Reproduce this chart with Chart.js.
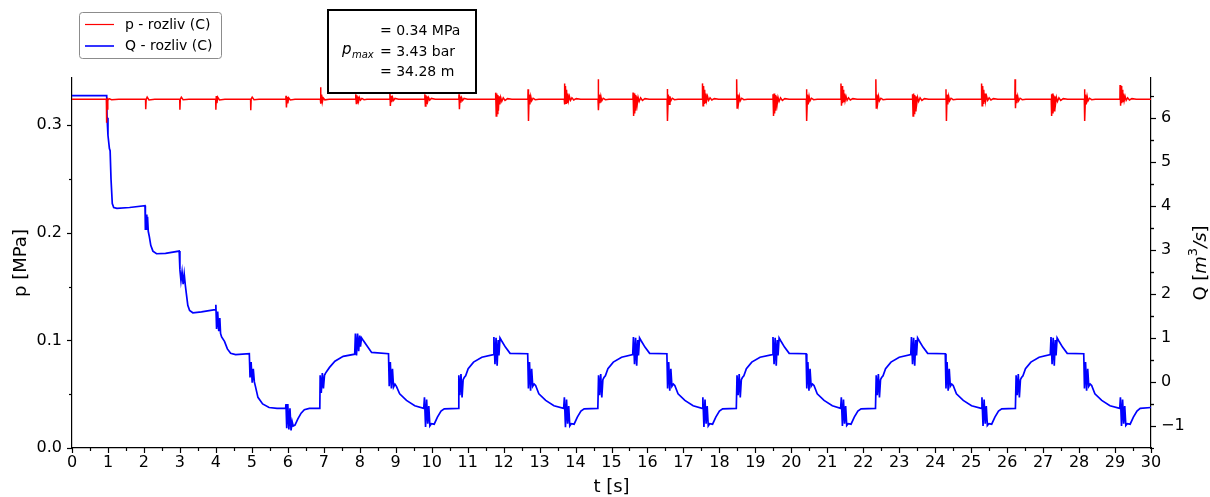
<!DOCTYPE html>
<html>
<head>
<meta charset="utf-8">
<script src="https://cdn.jsdelivr.net/npm/chart.js@4"></script>
<style>
  html, body { margin: 0; padding: 0; background: #fff; }
</style>
</head>
<body>
<canvas id="chart" width="1210" height="497"></canvas>
<script>
// Tlak a průtok – rozliv (C), čteno z obrázku
const xTicks = [0, 30, 1];           // min, max, krok osy t [s]
const pTicks = [0, 0.344, 0.1];      // osa p [MPa]
const qTicks = [-1.5, 6.9, 1];       // osa Q [m3/s]
const seriesNames = ['p - rozliv (C)', 'Q - rozliv (C)'];
const boxLines = ['= 0.34 MPa', '= 3.43 bar', '= 34.28 m'];

// p [MPa] – [t, p]
const pSeries = [
  [0, .3242], [0.955, .3242], [0.96, .3025], [0.966, .3236], [0.98, .3244], [0.99, .3145], [1.0, .3232], [1.03, .3248], [1.1, .3238], [1.3, .3242],
  [2.045, .3242], [2.05, .315], [2.062, .324], [2.09, .3262], [2.14, .3236], [2.3, .3242],
  [2.995, .3242], [3.0, .3145], [3.012, .3242], [3.04, .3262], [3.09, .3238], [3.25, .3242],
  [3.995, .3242], [4.0, .3145], [4.012, .3272], [4.03, .3205], [4.05, .3262], [4.1, .3236], [4.25, .3242],
  [4.965, .3242], [4.97, .314], [4.982, .3245], [5.01, .3262], [5.06, .3238], [5.2, .3242],
  [5.945, .3242], [5.95, .3275], [5.962, .3165], [5.98, .3262], [6.0, .3205], [6.025, .3255], [6.07, .3236], [6.2, .3242],
  [6.905, .3242], [6.91, .3355], [6.922, .3202], [6.94, .3285], [6.96, .3215], [6.985, .3255], [7.03, .3237], [7.15, .3242],
  [7.885, .3242], [7.89, .3288], [7.905, .3202], [7.92, .328], [7.935, .3212], [7.95, .3268], [7.97, .3225], [7.99, .3258], [8.02, .3234], [8.06, .325], [8.12, .3238], [8.2, .3242],
  [8.835, .3242], [8.84, .3304], [8.852, .318], [8.87, .3275], [8.89, .3215], [8.915, .3258], [8.94, .3232], [8.98, .325], [9.08, .3242],
  [9.805, .3242], [9.81, .3288], [9.825, .318], [9.84, .328], [9.855, .3205], [9.87, .327], [9.89, .3222], [9.915, .3258], [9.945, .3234], [9.99, .325], [10.1, .3242],
  [10.755, .3242], [10.76, .3288], [10.772, .3149], [10.79, .3268], [10.81, .3212], [10.835, .3256], [10.86, .3232], [10.9, .325], [11.0, .3242],
  [11.775, .3242], [11.78, .3304], [11.795, .3087], [11.81, .3295], [11.825, .311], [11.84, .3282], [11.855, .3135], [11.875, .327], [11.895, .3195], [11.92, .326], [11.95, .3222], [11.99, .3256], [12.04, .3232], [12.11, .3248], [12.23, .3242],
  [12.675, .3242], [12.68, .3335], [12.692, .304], [12.71, .3285], [12.73, .3195], [12.755, .327], [12.78, .3228], [12.82, .3252], [12.88, .3238], [12.98, .3242],
  [13.685, .3242], [13.69, .3388], [13.705, .3195], [13.72, .3365], [13.735, .3205], [13.75, .333], [13.765, .3215], [13.785, .3295], [13.805, .323], [13.83, .327], [13.86, .3232], [13.9, .3256], [13.95, .3236], [14.02, .3248], [14.14, .3242],
  [14.625, .3242], [14.63, .3428], [14.642, .314], [14.66, .3285], [14.68, .3205], [14.705, .327], [14.73, .3228], [14.77, .3252], [14.83, .3238], [14.93, .3242],
  [15.595, .3242], [15.6, .3304], [15.615, .3087], [15.63, .3295], [15.645, .311], [15.66, .3282], [15.675, .3135], [15.695, .327], [15.715, .3195], [15.74, .326], [15.77, .3222], [15.81, .3256], [15.86, .3232], [15.93, .3248], [16.05, .3242],
  [16.545, .3242], [16.55, .3338], [16.562, .3041], [16.58, .3285], [16.6, .3195], [16.625, .327], [16.65, .3228], [16.69, .3252], [16.75, .3238], [16.85, .3242],
  [17.525, .3242], [17.53, .339], [17.545, .3182], [17.56, .3365], [17.575, .3205], [17.59, .333], [17.605, .3215], [17.625, .3295], [17.645, .323], [17.67, .327], [17.7, .3232], [17.74, .3256], [17.79, .3236], [17.86, .3248], [17.98, .3242],
  [18.475, .3242], [18.48, .3428], [18.492, .316], [18.51, .3285], [18.53, .3205], [18.555, .327], [18.58, .3228], [18.62, .3252], [18.68, .3238], [18.78, .3242],
  [19.485, .3242], [19.49, .3288], [19.505, .3087], [19.52, .3295], [19.535, .311], [19.55, .3282], [19.565, .3135], [19.585, .327], [19.605, .3195], [19.63, .326], [19.66, .3222], [19.7, .3256], [19.75, .3232], [19.82, .3248], [19.94, .3242],
  [20.415, .3242], [20.42, .3335], [20.432, .304], [20.45, .3285], [20.47, .3195], [20.495, .327], [20.52, .3228], [20.56, .3252], [20.62, .3238], [20.72, .3242],
  [21.375, .3242], [21.38, .3388], [21.395, .3182], [21.41, .3365], [21.425, .3205], [21.44, .333], [21.455, .3215], [21.475, .3295], [21.495, .323], [21.52, .327], [21.55, .3232], [21.59, .3256], [21.64, .3236], [21.71, .3248], [21.83, .3242],
  [22.345, .3242], [22.35, .3428], [22.362, .316], [22.38, .3285], [22.4, .3205], [22.425, .327], [22.45, .3228], [22.49, .3252], [22.55, .3238], [22.65, .3242],
  [23.365, .3242], [23.37, .3288], [23.385, .3087], [23.4, .3295], [23.415, .311], [23.43, .3282], [23.445, .3135], [23.465, .327], [23.485, .3195], [23.51, .326], [23.54, .3222], [23.58, .3256], [23.63, .3232], [23.7, .3248], [23.82, .3242],
  [24.295, .3242], [24.3, .3335], [24.312, .3041], [24.33, .3285], [24.35, .3195], [24.375, .327], [24.4, .3228], [24.44, .3252], [24.5, .3238], [24.6, .3242],
  [25.285, .3242], [25.29, .3388], [25.305, .3182], [25.32, .3365], [25.335, .3205], [25.35, .333], [25.365, .3215], [25.385, .3295], [25.405, .323], [25.43, .327], [25.46, .3232], [25.5, .3256], [25.55, .3236], [25.62, .3248], [25.74, .3242],
  [26.215, .3242], [26.22, .3428], [26.232, .316], [26.25, .3285], [26.27, .3205], [26.295, .327], [26.32, .3228], [26.36, .3252], [26.42, .3238], [26.52, .3242],
  [27.225, .3242], [27.23, .3288], [27.245, .3087], [27.26, .3295], [27.275, .311], [27.29, .3282], [27.305, .3135], [27.325, .327], [27.345, .3195], [27.37, .326], [27.4, .3222], [27.44, .3256], [27.49, .3232], [27.56, .3248], [27.68, .3242],
  [28.145, .3242], [28.15, .3335], [28.162, .3041], [28.18, .3285], [28.2, .3195], [28.225, .327], [28.25, .3228], [28.29, .3252], [28.35, .3238], [28.45, .3242],
  [29.135, .3242], [29.14, .3375], [29.155, .3182], [29.17, .3365], [29.185, .3205], [29.2, .333], [29.215, .3215], [29.235, .3295], [29.255, .323], [29.28, .327], [29.31, .3232], [29.35, .3256], [29.4, .3236], [29.47, .3248], [29.59, .3242],
  [30, .3242]
];

// Q [m3/s] – [t, Q]
const qSeries = [
  [0, 6.5], [0.965, 6.5], [0.975, 6.0], [1.0, 5.6], [1.04, 5.3], [1.06, 5.25], [1.085, 4.6], [1.12, 4.05], [1.16, 3.96], [1.25, 3.94], [1.6, 3.96], [2.03, 4.0],
  [2.04, 3.45], [2.06, 3.8], [2.08, 3.45], [2.1, 3.75], [2.12, 3.42], [2.15, 3.3], [2.19, 3.1], [2.25, 2.97], [2.35, 2.91], [2.6, 2.92], [2.98, 2.97],
  [3.0, 2.55], [3.03, 2.3], [3.06, 2.5], [3.09, 2.22], [3.12, 2.45], [3.15, 2.2], [3.18, 2.0], [3.22, 1.74], [3.27, 1.62], [3.36, 1.57], [3.6, 1.59], [3.98, 1.64],
  [4.0, 1.75], [4.02, 1.2], [4.05, 1.6], [4.08, 1.15], [4.11, 1.45], [4.13, 1.1], [4.16, 1.02], [4.24, 0.92], [4.32, 0.75], [4.41, 0.65], [4.55, 0.62], [4.93, 0.64],
  [4.95, 0.1], [4.98, 0.45], [5.01, -0.02], [5.04, 0.3], [5.07, 0.0], [5.1, -0.1], [5.17, -0.35], [5.3, -0.5], [5.48, -0.58], [5.7, -0.6], [5.94, -0.6],
  [5.95, -0.5], [5.97, -1.05], [6.0, -0.5], [6.03, -1.08], [6.06, -0.6], [6.09, -1.1], [6.12, -0.9], [6.15, -1.0], [6.2, -0.98], [6.28, -0.84], [6.37, -0.71], [6.46, -0.63], [6.6, -0.6], [6.89, -0.6],
  [6.9, 0.15], [6.93, -0.25], [6.96, 0.2], [6.99, -0.15], [7.02, 0.15], [7.05, 0.2], [7.09, 0.25], [7.16, 0.33], [7.31, 0.47], [7.54, 0.58], [7.86, 0.63],
  [7.88, 1.1], [7.91, 0.6], [7.94, 1.1], [7.97, 0.7], [8.0, 1.05], [8.02, 0.8], [8.05, 1.0], [8.09, 0.95], [8.2, 0.82], [8.33, 0.67], [8.8, 0.64],
  [8.82, -0.1], [8.85, 0.45], [8.88, -0.15], [8.91, 0.3], [8.94, -0.12], [8.98, -0.05], [9.02, -0.1], [9.11, -0.27], [9.3, -0.42], [9.53, -0.54], [9.78, -0.6],
  [9.8, -0.35], [9.83, -1.02], [9.86, -0.4], [9.89, -0.95], [9.92, -0.55], [9.95, -1.0], [9.99, -0.95], [10.07, -0.96], [10.16, -0.8], [10.26, -0.66], [10.35, -0.61], [10.74, -0.6],
  [10.755, 0.15], [10.785, -0.3], [10.815, 0.18], [10.845, -0.35], [10.875, 0.05], [10.905, 0.1], [10.945, 0.14], [11.015, 0.3], [11.165, 0.45], [11.395, 0.56], [11.715, 0.62],
  [11.73, 1.02], [11.76, 0.4], [11.79, 1.0], [11.82, 0.37], [11.85, 0.95], [11.87, 0.6], [11.9, 1.0], [11.94, 0.94], [12.05, 0.79], [12.18, 0.65], [12.67, 0.64],
  [12.69, -0.15], [12.72, 0.45], [12.75, -0.2], [12.78, 0.3], [12.81, -0.1], [12.85, -0.05], [12.89, -0.08], [12.98, -0.27], [13.17, -0.42], [13.4, -0.54], [13.67, -0.6],
  [13.69, -0.35], [13.72, -1.03], [13.75, -0.4], [13.78, -0.95], [13.81, -0.55], [13.84, -1.0], [13.88, -0.95], [13.96, -0.96], [14.05, -0.8], [14.15, -0.66], [14.24, -0.61], [14.62, -0.6],
  [14.64, 0.15], [14.67, -0.3], [14.7, 0.18], [14.73, -0.35], [14.76, 0.05], [14.79, 0.1], [14.83, 0.14], [14.9, 0.3], [15.05, 0.45], [15.28, 0.56], [15.59, 0.62],
  [15.61, 1.02], [15.64, 0.4], [15.67, 1.0], [15.7, 0.37], [15.73, 0.95], [15.75, 0.6], [15.78, 1.0], [15.82, 0.94], [15.93, 0.79], [16.06, 0.65], [16.54, 0.64],
  [16.56, -0.15], [16.59, 0.45], [16.62, -0.2], [16.65, 0.3], [16.68, -0.1], [16.72, -0.05], [16.76, -0.08], [16.85, -0.27], [17.04, -0.42], [17.27, -0.54], [17.52, -0.6],
  [17.54, -0.35], [17.57, -1.02], [17.6, -0.4], [17.63, -0.95], [17.66, -0.55], [17.69, -1.0], [17.73, -0.95], [17.81, -0.96], [17.9, -0.8], [18.0, -0.66], [18.09, -0.61], [18.47, -0.6],
  [18.49, 0.15], [18.52, -0.3], [18.55, 0.18], [18.58, -0.35], [18.61, 0.05], [18.64, 0.1], [18.68, 0.14], [18.75, 0.3], [18.9, 0.45], [19.13, 0.56], [19.47, 0.62],
  [19.49, 1.02], [19.52, 0.4], [19.55, 1.0], [19.58, 0.37], [19.61, 0.95], [19.63, 0.6], [19.66, 1.0], [19.7, 0.94], [19.81, 0.79], [19.94, 0.65], [20.41, 0.64],
  [20.43, -0.15], [20.46, 0.45], [20.49, -0.2], [20.52, 0.3], [20.55, -0.1], [20.59, -0.05], [20.63, -0.08], [20.72, -0.27], [20.91, -0.42], [21.14, -0.54], [21.37, -0.6],
  [21.39, -0.35], [21.42, -1.0], [21.45, -0.4], [21.48, -0.95], [21.51, -0.55], [21.54, -0.99], [21.58, -0.95], [21.66, -0.96], [21.75, -0.8], [21.85, -0.66], [21.94, -0.61], [22.34, -0.6],
  [22.36, 0.15], [22.39, -0.3], [22.42, 0.18], [22.45, -0.35], [22.48, 0.05], [22.51, 0.1], [22.55, 0.14], [22.62, 0.3], [22.77, 0.45], [23.0, 0.56], [23.32, 0.62],
  [23.34, 1.02], [23.37, 0.4], [23.4, 1.0], [23.43, 0.37], [23.46, 0.95], [23.48, 0.6], [23.51, 1.0], [23.55, 0.94], [23.66, 0.79], [23.79, 0.65], [24.28, 0.64],
  [24.3, -0.15], [24.33, 0.45], [24.36, -0.2], [24.39, 0.3], [24.42, -0.1], [24.46, -0.05], [24.5, -0.08], [24.59, -0.27], [24.78, -0.42], [25.01, -0.54], [25.28, -0.6],
  [25.3, -0.35], [25.33, -1.0], [25.36, -0.4], [25.39, -0.95], [25.42, -0.55], [25.45, -0.99], [25.49, -0.95], [25.57, -0.96], [25.66, -0.8], [25.76, -0.66], [25.85, -0.61], [26.23, -0.6],
  [26.25, 0.15], [26.28, -0.3], [26.31, 0.18], [26.34, -0.35], [26.37, 0.05], [26.4, 0.1], [26.44, 0.14], [26.51, 0.3], [26.66, 0.45], [26.89, 0.56], [27.2, 0.62],
  [27.22, 1.02], [27.25, 0.4], [27.28, 1.0], [27.31, 0.37], [27.34, 0.95], [27.36, 0.6], [27.39, 1.0], [27.43, 0.94], [27.54, 0.79], [27.67, 0.65], [28.13, 0.64],
  [28.15, -0.15], [28.18, 0.45], [28.21, -0.2], [28.24, 0.3], [28.27, -0.1], [28.31, -0.05], [28.35, -0.08], [28.44, -0.27], [28.63, -0.42], [28.86, -0.54], [29.13, -0.6],
  [29.15, -0.35], [29.18, -1.0], [29.21, -0.4], [29.24, -0.95], [29.27, -0.55], [29.3, -0.99], [29.34, -0.95], [29.42, -0.96], [29.51, -0.8], [29.61, -0.66], [29.7, -0.6], [30, -0.58]
];

const FONT = "'DejaVu Sans', sans-serif";
Chart.defaults.font.family = FONT;
Chart.defaults.color = '#000';

const toXY = arr => arr.map(([t, v]) => ({ x: t, y: v }));

// tiky, popisky os, legenda a rámeček s pmax
const decor = {
  id: 'decor',
  afterDraw(chart) {
    const { ctx, chartArea: a, scales } = chart;
    const { x, y, y2 } = scales;
    ctx.save();
    ctx.strokeStyle = '#000';
    ctx.lineWidth = 1.2;
    const line = (x1, y1, x2, y2_) => { ctx.beginPath(); ctx.moveTo(x1, y1); ctx.lineTo(x2, y2_); ctx.stroke(); };

    // tiky osy x (hlavní + vedlejší po 0.5)
    x.ticks.forEach(tk => {
      const px = Math.round(x.getPixelForValue(tk.value)) + 0.5;
      line(px, a.bottom, px, a.bottom + 5);
      const half = tk.value + xTicks[2] / 2;
      if (half < x.max) {
        const hx = Math.round(x.getPixelForValue(half)) + 0.5;
        line(hx, a.bottom, hx, a.bottom + 3);
      }
    });
    // tiky osy p
    y.ticks.forEach(tk => {
      const py = Math.round(y.getPixelForValue(tk.value)) + 0.5;
      line(a.left, py, a.left - 5, py);
      const half = tk.value + pTicks[2] / 2;
      if (half < y.max) {
        const hy = Math.round(y.getPixelForValue(half)) + 0.5;
        line(a.left, hy, a.left - 3, hy);
      }
    });
    // tiky osy Q
    y2.ticks.forEach(tk => {
      const py = Math.round(y2.getPixelForValue(tk.value)) + 0.5;
      line(a.right, py, a.right + 5, py);
      [tk.value - qTicks[2] / 2, tk.value + qTicks[2] / 2].forEach(h => {
        if (h >= y2.min && h <= y2.max) {
          const hy = Math.round(y2.getPixelForValue(h)) + 0.5;
          line(a.right, hy, a.right + 3, hy);
        }
      });
    });

    // popisky os
    ctx.fillStyle = '#000';
    ctx.textBaseline = 'middle';
    ctx.textAlign = 'center';
    ctx.font = '18px ' + FONT;
    ctx.fillText('t [s]', (a.left + a.right) / 2, 487);

    ctx.save();
    ctx.translate(21, (a.top + a.bottom) / 2);
    ctx.rotate(-Math.PI / 2);
    ctx.fillText('p [MPa]', 0, 0);
    ctx.restore();

    // Q [m^3/s] s kurzívou a horním indexem
    ctx.save();
    ctx.translate(1201, (a.top + a.bottom) / 2);
    ctx.rotate(-Math.PI / 2);
    const parts = [
      ['Q [', '18px ' + FONT, 0],
      ['m', 'italic 18px ' + FONT, 0],
      ['3', '13px ' + FONT, -7],
      ['/s', 'italic 18px ' + FONT, 0],
      [']', '18px ' + FONT, 0]
    ];
    let w = 0;
    parts.forEach(p => { ctx.font = p[1]; w += ctx.measureText(p[0]).width; });
    let cx = -w / 2;
    ctx.textAlign = 'left';
    parts.forEach(p => {
      ctx.font = p[1];
      ctx.fillText(p[0], cx, p[2]);
      cx += ctx.measureText(p[0]).width;
    });
    ctx.restore();

    // legenda
    ctx.lineWidth = 1;
    ctx.strokeStyle = '#8c8c8c';
    ctx.fillStyle = 'rgba(255,255,255,0.85)';
    ctx.beginPath();
    ctx.roundRect(79.5, 12.5, 142, 46, 3);
    ctx.fill();
    ctx.stroke();
    const colors = ['#ff0000', '#0000ff'];
    const widths = [1.2, 1.6];
    seriesNames.forEach((name, i) => {
      const ly = 24.5 + i * 21.5;
      ctx.strokeStyle = colors[i];
      ctx.lineWidth = widths[i];
      line(85, ly, 114, ly);
      ctx.fillStyle = '#000';
      ctx.font = '14px ' + FONT;
      ctx.textAlign = 'left';
      ctx.fillText(name, 125, ly + 0.5);
    });

    // rámeček s maximálním tlakem
    ctx.fillStyle = '#fff';
    ctx.fillRect(328, 10, 148, 83);
    ctx.strokeStyle = '#000';
    ctx.lineWidth = 2;
    ctx.strokeRect(328, 10, 148, 83);
    ctx.fillStyle = '#000';
    ctx.textAlign = 'left';
    ctx.font = '14px ' + FONT;
    boxLines.forEach((txt, i) => ctx.fillText(txt, 380, 31.5 + i * 20.5));
    ctx.font = 'italic 15px ' + FONT;
    ctx.fillText('p', 342, 50.5);
    ctx.font = 'italic 10px ' + FONT;
    ctx.fillText('max', 352, 55);
    ctx.restore();
  }
};

new Chart(document.getElementById('chart'), {
  type: 'line',
  data: {
    datasets: [
      {
        label: seriesNames[0],
        data: toXY(pSeries),
        yAxisID: 'y',
        borderColor: '#ff0000',
        borderWidth: 1.5,
        pointRadius: 0,
        tension: 0
      },
      {
        label: seriesNames[1],
        data: toXY(qSeries),
        yAxisID: 'y2',
        borderColor: '#0000ff',
        borderWidth: 1.7,
        pointRadius: 0,
        tension: 0
      }
    ]
  },
  options: {
    responsive: false,
    animation: false,
    devicePixelRatio: 1,
    layout: { padding: { top: 78, left: 0, right: 0, bottom: 0 } },
    plugins: { legend: { display: false }, tooltip: { enabled: false } },
    scales: {
      x: {
        type: 'linear',
        min: xTicks[0], max: xTicks[1],
        ticks: { stepSize: xTicks[2], includeBounds: false, autoSkip: false, maxRotation: 0, padding: 5, font: { size: 16 } },
        grid: { display: false, drawTicks: false },
        border: { display: true, color: '#000', width: 1.2 },
        afterFit(s) { s.height = 49; }
      },
      y: {
        position: 'left',
        min: pTicks[0], max: pTicks[1],
        ticks: { stepSize: pTicks[2], includeBounds: false, padding: 10, font: { size: 16 }, callback: v => v.toFixed(1) },
        grid: { display: false, drawTicks: false },
        border: { display: true, color: '#000', width: 1.2 },
        afterFit(s) { s.width = 72; }
      },
      y2: {
        position: 'right',
        min: qTicks[0], max: qTicks[1],
        ticks: { stepSize: qTicks[2], includeBounds: false, padding: 10, font: { size: 16 }, callback: v => v < 0 ? '\u2212' + Math.abs(v) : String(v) },
        grid: { display: false, drawTicks: false },
        border: { display: true, color: '#000', width: 1.2 },
        afterFit(s) { s.width = 59; }
      }
    }
  },
  plugins: [decor]
});
</script>
</body>
</html>
